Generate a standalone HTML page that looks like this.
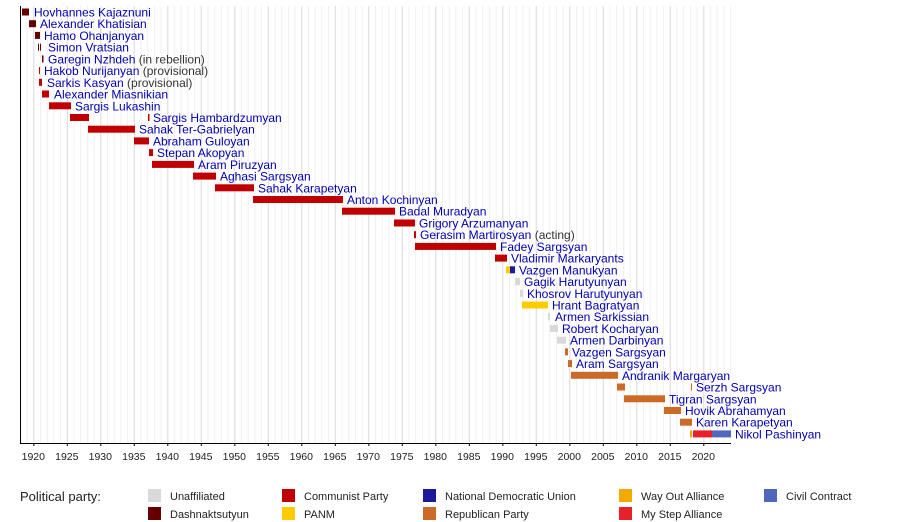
<!DOCTYPE html>
<html><head><meta charset="utf-8"><style>
html,body{margin:0;padding:0;background:#fff}
svg{display:block;font-family:"Liberation Sans",Arial,sans-serif}
.n{font-size:12px;fill:#0000b0}
.g{fill:#333}
.t{font-size:10.5px;fill:#222;text-anchor:middle}
.l{font-size:11px;fill:#222}
</style></head><body>
<svg width="900" height="522" viewBox="0 0 900 522">
<defs>
<pattern id="yr" x="33.3" y="0" width="6.7" height="10" patternUnits="userSpaceOnUse"><rect x="0" y="0" width="1" height="10" fill="#f0f0f0"/></pattern>
<pattern id="y5" x="33.3" y="0" width="33.5" height="10" patternUnits="userSpaceOnUse"><rect x="0" y="0" width="1" height="10" fill="#dcdcdc"/></pattern>
<pattern id="tk" x="33.3" y="0" width="6.7" height="10" patternUnits="userSpaceOnUse"><rect x="0" y="0" width="1" height="3" fill="#000"/></pattern>
<pattern id="tk5" x="33.3" y="0" width="33.5" height="10" patternUnits="userSpaceOnUse"><rect x="0" y="0" width="1" height="6" fill="#000"/></pattern>
</defs>
<rect x="20" y="6" width="711" height="437" fill="url(#yr)"/>
<rect x="20" y="6" width="711" height="437" fill="url(#y5)"/>
<rect x="20" y="6" width="1" height="437" fill="#000"/>
<rect x="20" y="443" width="711" height="1" fill="#000"/>
<rect x="20" y="444" width="711" height="3" fill="url(#tk)"/>
<rect x="20" y="444" width="711" height="6" fill="url(#tk5)"/>
<g class="t">
<text x="33.3" y="460">1920</text><text x="66.8" y="460">1925</text><text x="100.3" y="460">1930</text><text x="133.8" y="460">1935</text><text x="167.3" y="460">1940</text><text x="200.8" y="460">1945</text><text x="234.3" y="460">1950</text><text x="267.8" y="460">1955</text><text x="301.3" y="460">1960</text><text x="334.8" y="460">1965</text><text x="368.3" y="460">1970</text><text x="401.8" y="460">1975</text><text x="435.3" y="460">1980</text><text x="468.8" y="460">1985</text><text x="502.3" y="460">1990</text><text x="535.8" y="460">1995</text><text x="569.3" y="460">2000</text><text x="602.8" y="460">2005</text><text x="636.3" y="460">2010</text><text x="669.8" y="460">2015</text><text x="703.3" y="460">2020</text>
</g>
<g>
<rect x="22" y="8.5" width="7" height="7" fill="#660000"/>
<rect x="29" y="20.2" width="7" height="7" fill="#660000"/>
<rect x="35" y="31.9" width="5" height="7" fill="#660000"/>
<rect x="38" y="43.7" width="1" height="7" fill="#660000"/><rect x="40" y="43.7" width="1" height="7" fill="#660000"/>
<rect x="42" y="55.4" width="1.5" height="7" fill="#660000"/>
<rect x="39" y="67.1" width="1" height="7" fill="#c00000"/>
<rect x="39" y="78.8" width="3" height="7" fill="#c00000"/>
<rect x="42" y="90.5" width="7" height="7" fill="#c00000"/>
<rect x="49" y="102.3" width="22" height="7" fill="#c00000"/>
<rect x="70" y="114" width="19" height="7" fill="#c00000"/><rect x="148" y="114" width="1.5" height="7" fill="#c00000"/>
<rect x="88" y="125.7" width="47" height="7" fill="#c00000"/>
<rect x="134" y="137.4" width="15" height="7" fill="#c00000"/>
<rect x="149" y="149.1" width="4" height="7" fill="#c00000"/>
<rect x="152" y="160.9" width="42" height="7" fill="#c00000"/>
<rect x="193" y="172.6" width="23" height="7" fill="#c00000"/>
<rect x="215" y="184.3" width="39" height="7" fill="#c00000"/>
<rect x="253" y="196" width="90" height="7" fill="#c00000"/>
<rect x="342" y="207.7" width="53" height="7" fill="#c00000"/>
<rect x="394" y="219.5" width="21" height="7" fill="#c00000"/>
<rect x="414" y="231.2" width="2" height="7" fill="#c00000"/>
<rect x="415" y="242.9" width="81" height="7" fill="#c00000"/>
<rect x="495" y="254.6" width="12" height="7" fill="#c00000"/>
<rect x="506" y="266.3" width="4" height="7" fill="#ffcc00"/><rect x="510" y="266.3" width="5" height="7" fill="#1a1a9a"/>
<rect x="515" y="278.1" width="5" height="7" fill="#d9d9d9"/>
<rect x="520" y="289.8" width="3" height="7" fill="#d9d9d9"/>
<rect x="522" y="301.5" width="26" height="7" fill="#ffcc00"/>
<rect x="548" y="313.2" width="2" height="7" fill="#d9d9d9"/>
<rect x="550" y="324.9" width="8" height="7" fill="#d9d9d9"/>
<rect x="557" y="336.7" width="9" height="7" fill="#d9d9d9"/>
<rect x="565" y="348.4" width="3" height="7" fill="#cc6a28"/>
<rect x="568" y="360.1" width="4" height="7" fill="#cc6a28"/>
<rect x="571" y="371.8" width="47" height="7" fill="#cc6a28"/>
<rect x="617" y="383.5" width="8" height="7" fill="#cc6a28"/><rect x="691" y="383.5" width="1" height="7" fill="#cc6a28"/>
<rect x="624" y="395.3" width="41" height="7" fill="#cc6a28"/>
<rect x="664" y="407" width="17" height="7" fill="#cc6a28"/>
<rect x="680" y="418.7" width="12" height="7" fill="#cc6a28"/>
<rect x="690" y="430.4" width="2" height="7" fill="#f2a900"/><rect x="693" y="430.4" width="19" height="7" fill="#e8202a"/><rect x="712" y="430.4" width="19" height="7" fill="#5068bb"/>
</g>
<g class="n">
<text x="34" y="16.5">Hovhannes Kajaznuni</text>
<text x="40" y="28.2">Alexander Khatisian</text>
<text x="44" y="39.9">Hamo Ohanjanyan</text>
<text x="48" y="51.7">Simon Vratsian</text>
<text x="48" y="63.4">Garegin Nzhdeh <tspan class="g">(in rebellion)</tspan></text>
<text x="44" y="75.1">Hakob Nurijanyan <tspan class="g">(provisional)</tspan></text>
<text x="47" y="86.8">Sarkis Kasyan <tspan class="g">(provisional)</tspan></text>
<text x="54" y="98.5">Alexander Miasnikian</text>
<text x="75" y="110.3">Sargis Lukashin</text>
<text x="153" y="122">Sargis Hambardzumyan</text>
<text x="139" y="133.7">Sahak Ter-Gabrielyan</text>
<text x="153" y="145.4">Abraham Guloyan</text>
<text x="157" y="157.1">Stepan Akopyan</text>
<text x="198" y="168.9">Aram Piruzyan</text>
<text x="220" y="180.6">Aghasi Sargsyan</text>
<text x="258" y="192.3">Sahak Karapetyan</text>
<text x="347" y="204">Anton Kochinyan</text>
<text x="399" y="215.7">Badal Muradyan</text>
<text x="419" y="227.5">Grigory Arzumanyan</text>
<text x="420" y="239.2">Gerasim Martirosyan <tspan class="g">(acting)</tspan></text>
<text x="500" y="250.9">Fadey Sargsyan</text>
<text x="511" y="262.6">Vladimir Markaryants</text>
<text x="519" y="274.3">Vazgen Manukyan</text>
<text x="524" y="286.1">Gagik Harutyunyan</text>
<text x="527" y="297.8">Khosrov Harutyunyan</text>
<text x="552" y="309.5">Hrant Bagratyan</text>
<text x="555" y="321.2">Armen Sarkissian</text>
<text x="562" y="332.9">Robert Kocharyan</text>
<text x="570" y="344.7">Armen Darbinyan</text>
<text x="572" y="356.4">Vazgen Sargsyan</text>
<text x="576" y="368.1">Aram Sargsyan</text>
<text x="622" y="379.8">Andranik Margaryan</text>
<text x="696" y="391.5">Serzh Sargsyan</text>
<text x="669" y="403.3">Tigran Sargsyan</text>
<text x="685" y="415">Hovik Abrahamyan</text>
<text x="696" y="426.7">Karen Karapetyan</text>
<text x="735" y="438.4">Nikol Pashinyan</text>
</g>
<text x="20" y="501" style="font-size:13px;fill:#222">Political party:</text>
<g class="l">
<rect x="148" y="489" width="13" height="13" fill="#d9d9d9"/><text x="170" y="500">Unaffiliated</text>
<rect x="148" y="507" width="13" height="13" fill="#660000"/><text x="170" y="518">Dashnaktsutyun</text>
<rect x="282" y="489" width="13" height="13" fill="#c00000"/><text x="304" y="500">Communist Party</text>
<rect x="282" y="507" width="13" height="13" fill="#ffcc00"/><text x="304" y="518">PANM</text>
<rect x="423" y="489" width="13" height="13" fill="#1a1a9a"/><text x="445" y="500">National Democratic Union</text>
<rect x="423" y="507" width="13" height="13" fill="#cc6a28"/><text x="445" y="518">Republican Party</text>
<rect x="619" y="489" width="13" height="13" fill="#f2a900"/><text x="641" y="500">Way Out Alliance</text>
<rect x="619" y="507" width="13" height="13" fill="#e8202a"/><text x="641" y="518">My Step Alliance</text>
<rect x="764" y="489" width="13" height="13" fill="#5068bb"/><text x="786" y="500">Civil Contract</text>
</g>
</svg>
</body></html>
